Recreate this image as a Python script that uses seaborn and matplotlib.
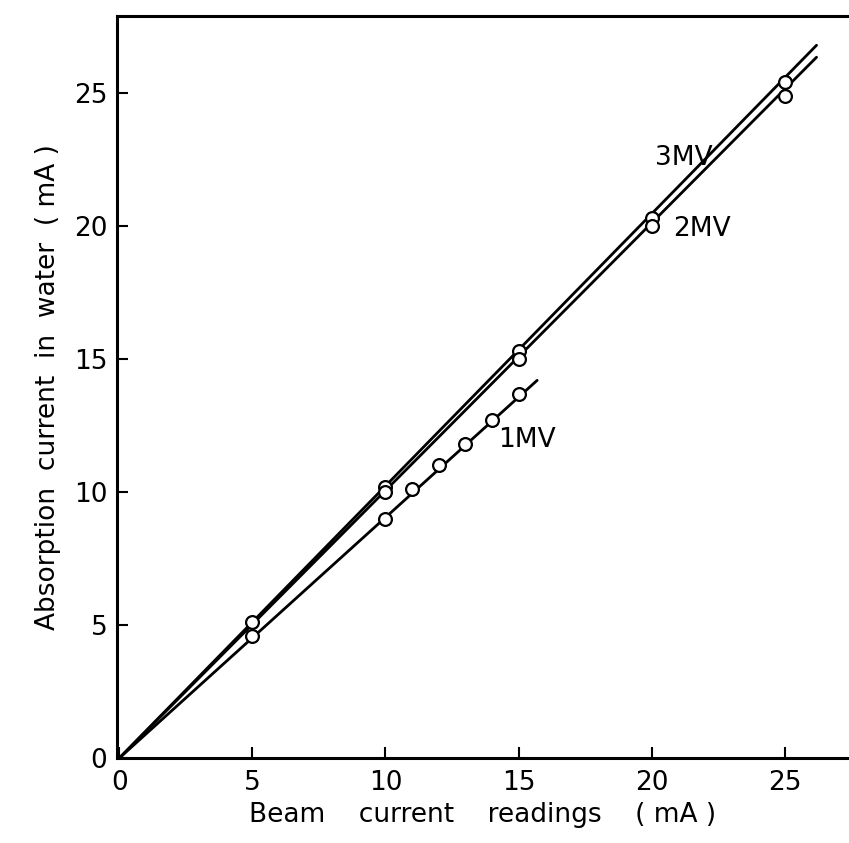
import matplotlib
matplotlib.use("Agg")
import matplotlib.pyplot as plt
import seaborn as sns
import pandas as pd

# ---- data ----
x_3mv = [5, 10, 15, 20, 25]
y_3mv = [5.1, 10.2, 15.3, 20.3, 25.4]
x_2mv = [10, 15, 20, 25]
y_2mv = [10.0, 15.0, 20.0, 24.9]
x_1mv = [5, 10, 11, 12, 13, 14, 15]
y_1mv = [4.6, 9.0, 10.1, 11.0, 11.8, 12.7, 13.7]

# fitted straight lines (start, end)
fit_x_3mv = [0, 26.2]
fit_y_3mv = [0, 26.8]
fit_x_2mv = [0, 26.2]
fit_y_2mv = [0, 26.35]
fit_x_1mv = [0, 15.7]
fit_y_1mv = [0, 14.2]

xticks = [0, 5, 10, 15, 20, 25]
yticks = [0, 5, 10, 15, 20, 25]

sns.set_theme(style="ticks")
plt.rcParams['font.family'] = ['DejaVu Sans']
plt.rcParams['text.color'] = 'black'
plt.rcParams['axes.labelcolor'] = 'black'

fig = plt.figure(figsize=(8.49, 8.43), dpi=100)
ax = fig.add_axes([117/849, 85/843, (849-117)/849, (758-16)/843])

lines = pd.DataFrame({
    "x": fit_x_3mv + fit_x_2mv + fit_x_1mv,
    "y": fit_y_3mv + fit_y_2mv + fit_y_1mv,
    "s": ["3MV"]*2 + ["2MV"]*2 + ["1MV"]*2,
})
pts = pd.DataFrame({
    "x": x_3mv + x_2mv + x_1mv,
    "y": y_3mv + y_2mv + y_1mv,
    "s": ["3MV"]*len(x_3mv) + ["2MV"]*len(x_2mv) + ["1MV"]*len(x_1mv),
})

sns.lineplot(data=lines, x="x", y="y", units="s", estimator=None,
             color="black", linewidth=2.0, ax=ax, legend=False)
sns.scatterplot(data=pts, x="x", y="y", ax=ax, s=85, marker="o",
                facecolor="white", edgecolor="black", linewidth=1.6,
                zorder=5, legend=False)

ax.text(21.2, 22.55, "3MV", fontsize=19, ha="center", va="center")
ax.text(21.9, 19.9, "2MV", fontsize=19, ha="center", va="center")
ax.text(15.3, 11.95, "1MV", fontsize=19, ha="center", va="center")

ax.set_xlim(-0.09, 27.42)
ax.set_ylim(0, 27.9)
ax.set_xticks(xticks)
ax.set_yticks(yticks)
ax.tick_params(axis="both", direction="in", length=8, width=1.5,
               labelsize=19, colors="black")
ax.tick_params(axis="x", pad=9)
ax.tick_params(axis="y", pad=7)
ax.set_xlabel("Beam    current    readings    ( mA )", fontsize=19, labelpad=4)
ax.set_ylabel("Absorption  current  in  water  ( mA )", fontsize=19, labelpad=9)

for side in ["left", "bottom", "top"]:
    ax.spines[side].set_linewidth(2.2)
    ax.spines[side].set_color("black")
ax.spines["right"].set_visible(False)

fig.savefig("out.png", dpi=100)
